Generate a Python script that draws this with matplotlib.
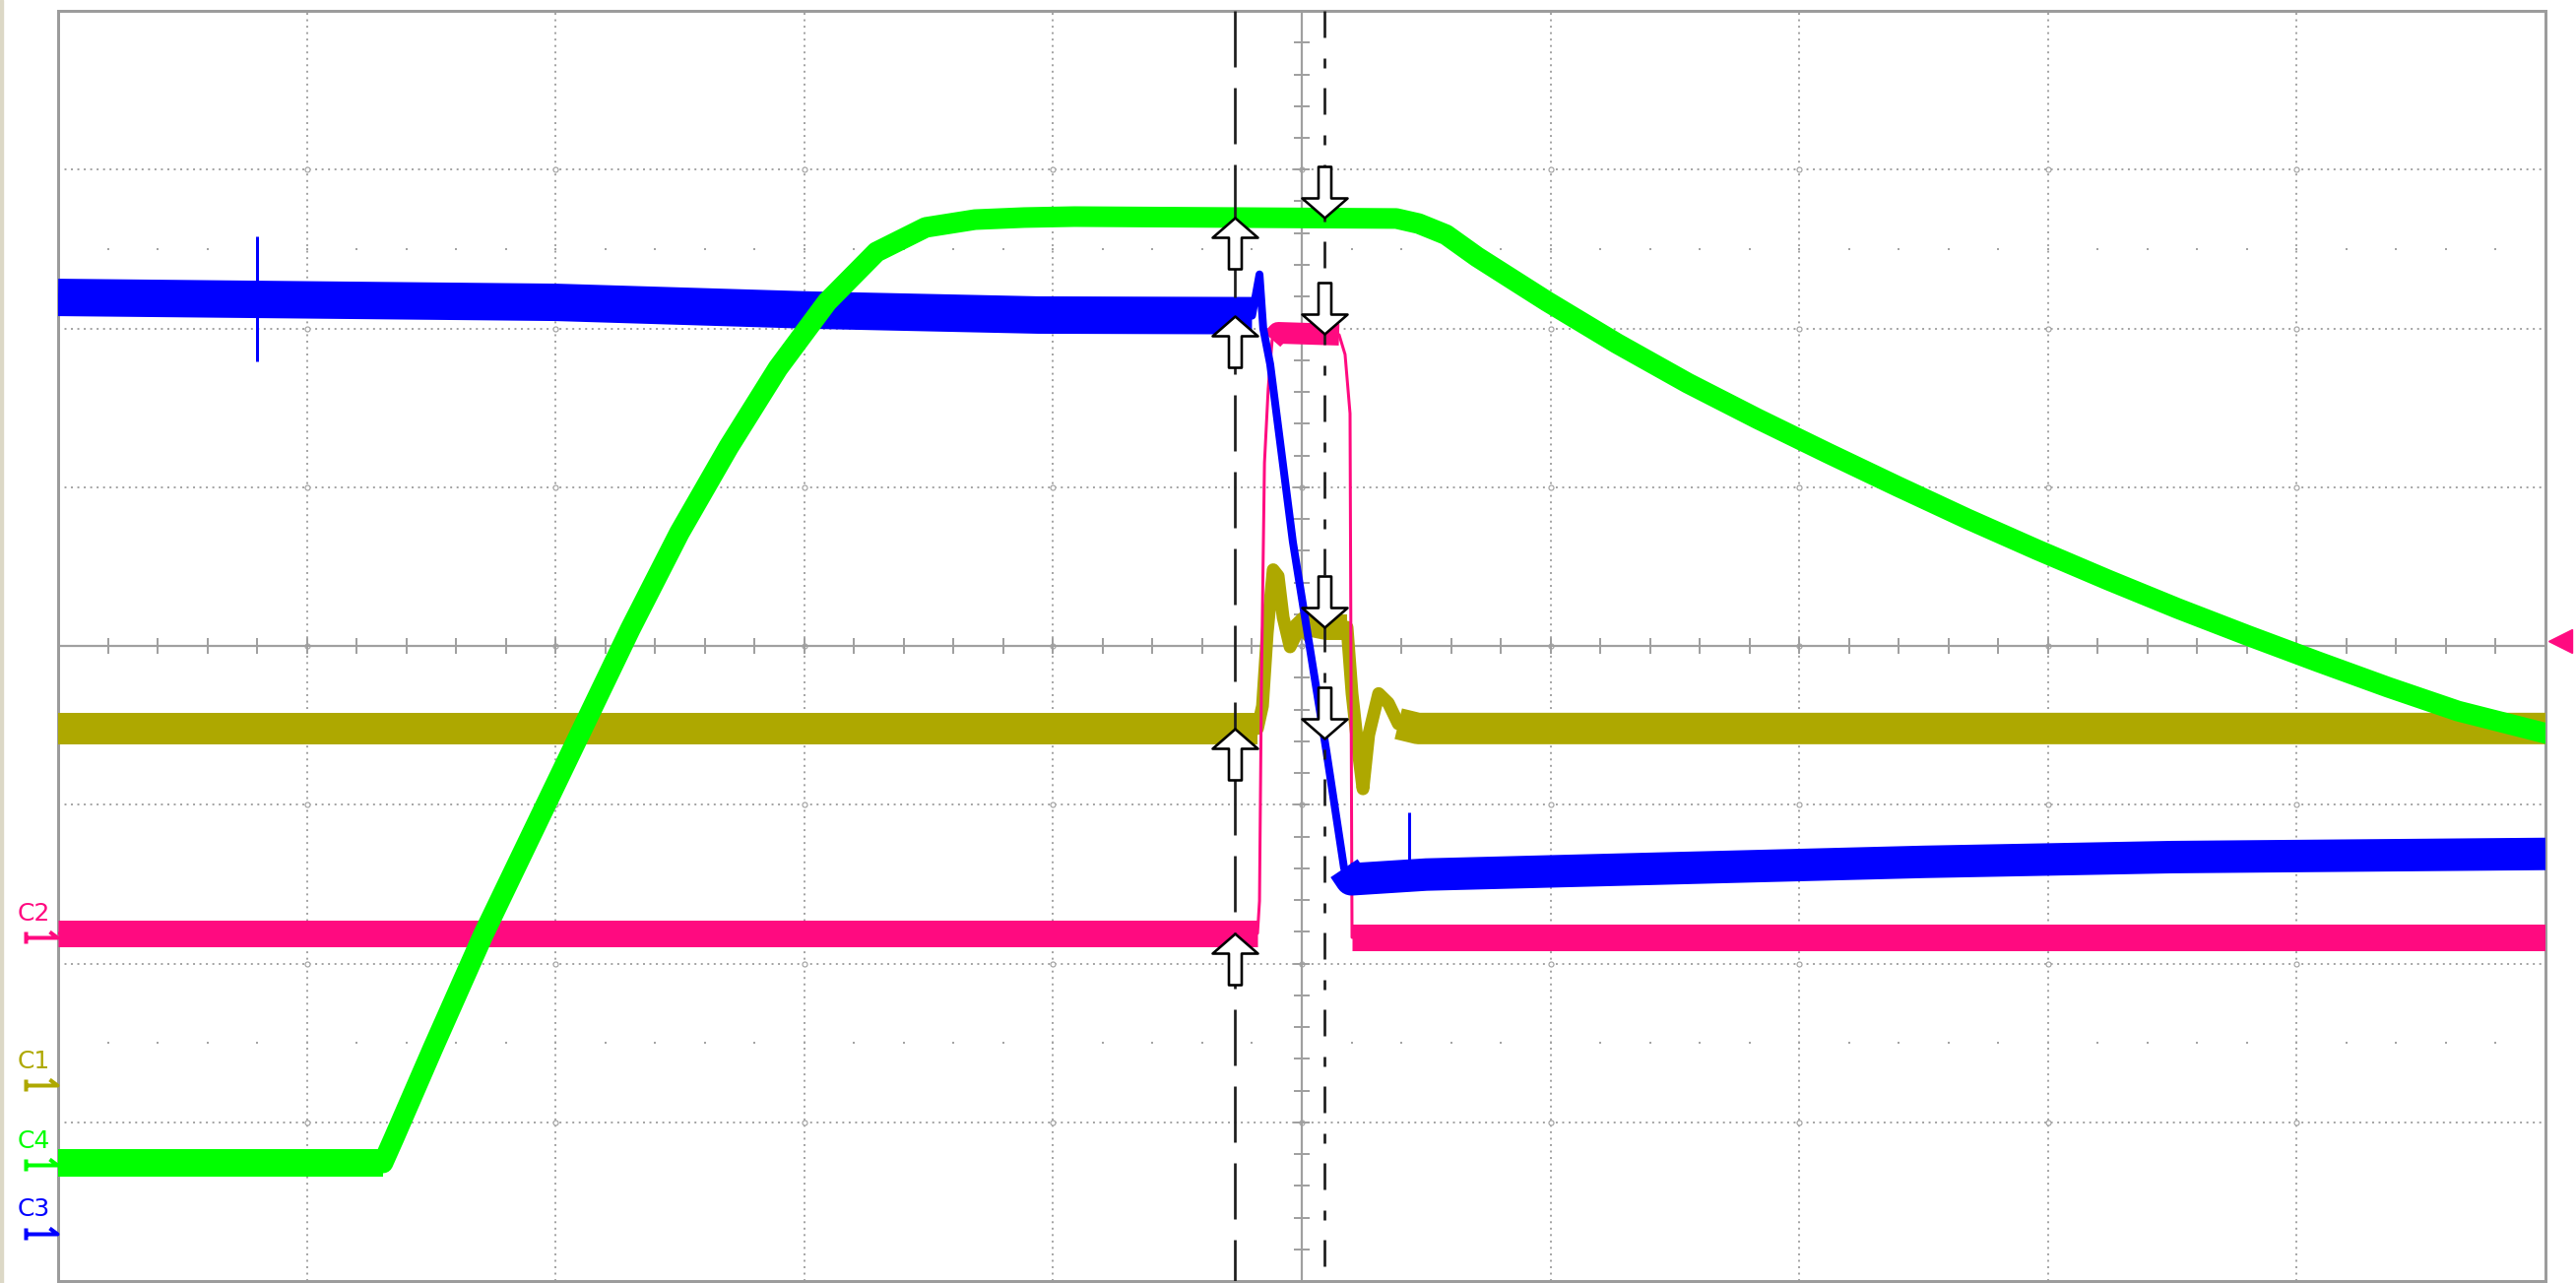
import numpy as np
import matplotlib
matplotlib.use("Agg")
import matplotlib.pyplot as plt
from matplotlib.path import Path
from matplotlib.patches import Rectangle

# scope screen: 10 x 8 divisions, every value below is in divisions
# C4 (green)
c4_t = [0, 1.306, 1.350, 1.508, 1.710, 2.106, 2.300, 2.498, 2.696, 2.894, 3.092,
        3.290, 3.488, 3.686, 3.884, 4.086, 5.380, 5.470, 5.580, 5.705, 5.986,
        6.267, 6.552, 6.833, 7.114, 7.395, 7.676, 7.957, 8.242, 8.523, 8.804,
        9.086, 9.367, 9.648, 10.0]
c4_v = [-3.256, -3.256, -3.101, -2.530, -1.817, -0.527, 0.105, 0.713, 1.253, 1.749, 2.167,
        2.481, 2.636, 2.685, 2.698, 2.704, 2.692, 2.660, 2.590, 2.450, 2.170,
        1.905, 1.655, 1.430, 1.215, 1.005, 0.800, 0.605, 0.415, 0.235, 0.065,
        -0.100, -0.260, -0.410, -0.550]

# C3 (blue)
c3_t = [0, 2.0, 3.03, 3.94, 4.80, 4.83, 4.845, 4.873, 4.964, 5.099, 5.17, 5.20,
        5.5, 6.5, 7.5, 8.5, 10.0]
c3_v = [2.195, 2.164, 2.115, 2.084, 2.08, 2.34, 2.0, 1.774, 0.657, -0.664, -1.40, -1.47,
        -1.44, -1.40, -1.36, -1.33, -1.31]
c3_spike_t = [0.80, 5.43]
c3_spike_lo = [1.79, -1.47]
c3_spike_hi = [2.58, -1.05]

# C2 (pink)
c2_t = [0, 4.822, 4.830, 4.838, 4.850, 4.865, 4.881, 4.905, 5.150, 5.174, 5.194, 5.202, 10.0]
c2_v = [-1.81, -1.81, -1.606, -0.211, 1.153, 1.619, 1.929, 1.972, 1.960, 1.836, 1.464, -1.836, -1.836]

# C1 (olive)
c1_t = [0, 4.822, 4.842, 4.861, 4.885, 4.905, 4.925, 4.953, 4.980, 5.020, 5.099, 5.182,
        5.202, 5.230, 5.246, 5.269, 5.309, 5.348, 5.388, 5.467, 10.0]
c1_v = [-0.52, -0.52, -0.378, 0.080, 0.480, 0.440, 0.180, -0.006, 0.081, 0.143, 0.118, 0.118,
        -0.300, -0.700, -0.900, -0.560, -0.300, -0.360, -0.490, -0.52, -0.52]

ch_names = ["C2", "C1", "C4", "C3"]
ch_ground = [-1.836, -2.766, -3.27, -3.70]
ch_colors = ["#ff0a80", "#aea800", "#00ff00", "#0000ff"]

cursor_a = 4.731
cursor_b = 5.091
trig_level = 0.03

GREEN, BLUE, PINK, OLIVE = "#00ff00", "#0000ff", "#ff0a80", "#aea800"
GRID = "#a4a4a4"
PX = 0.72  # points per pixel at dpi 100

plt.rcParams["lines.scale_dashes"] = False

fig = plt.figure(figsize=(26.16, 13.03), dpi=100)
fig.add_artist(Rectangle((0, 0), 3 / 2616, 1, transform=fig.transFigure,
                         color="#dcd8c6", zorder=0))
ax = fig.add_axes([59 / 2616, 2 / 1303, 2526 / 2616, 1290 / 1303])
ax.set_xlim(0, 10)
ax.set_ylim(-4, 4)
ax.set_xticks([])
ax.set_yticks([])
for s in ax.spines.values():
    s.set_color("#9c9c9c")
    s.set_linewidth(3 * PX)

# dotted graticule
for k in range(1, 10):
    if k != 5:
        ax.plot([k, k], [-4, 4], color=GRID, lw=2 * PX, dashes=(1.4, 3.3), zorder=1)
for j in range(-3, 4):
    if j != 0:
        ax.plot([0, 10], [j, j], color=GRID, lw=2 * PX, dashes=(1.4, 3.3), zorder=1)
gx, gy = np.meshgrid(np.arange(1, 10), np.arange(-3, 4))
ax.plot(gx.ravel(), gy.ravel(), "o", ms=5 * PX, mfc="white", mec=GRID, mew=1.2 * PX, zorder=1)
minor = np.arange(1, 50) * 0.2
for yy in (2.5, -2.5):
    ax.plot(minor, np.full_like(minor, yy), "s", ms=2 * PX, color=GRID, mew=0, zorder=1)

# centre axes with minor ticks
ax.axhline(0, color="#a0a0a0", lw=2.2 * PX, zorder=1)
ax.axvline(5, color="#a0a0a0", lw=2.2 * PX, zorder=1)
ax.plot(minor, np.zeros_like(minor), "|", ms=16 * PX, mew=2 * PX, color="#a0a0a0", zorder=1)
ymin = np.arange(-19, 20) * 0.2
ax.plot(np.full_like(ymin, 5), ymin, "_", ms=16 * PX, mew=2 * PX, color="#a0a0a0", zorder=1)


def band(t, v, i0, i1, color, w, z):
    ax.plot(t[i0:i1], v[i0:i1], color=color, lw=w * PX, solid_capstyle="butt", zorder=z)


# C1
ax.plot(c1_t, c1_v, color=OLIVE, lw=13 * PX, zorder=3)
band(c1_t, c1_v, 0, 2, OLIVE, 32, 3)
band(c1_t, c1_v, 8, 12, OLIVE, 26, 3)
band(c1_t, c1_v, 18, 21, OLIVE, 32, 3)

# C2
ax.plot(c2_t, c2_v, color=PINK, lw=3 * PX, zorder=4)
band(c2_t, c2_v, 0, 2, PINK, 27, 4)
band(c2_t, c2_v, 6, 9, PINK, 22, 4)
band(c2_t, c2_v, 11, 13, PINK, 27, 4)

# C3
ax.plot(c3_t, c3_v, color=BLUE, lw=8 * PX, zorder=5)
band(c3_t, c3_v, 0, 5, BLUE, 38, 5)
band(c3_t, c3_v, 10, 17, BLUE, 33, 5)
ax.vlines(c3_spike_t, c3_spike_lo, c3_spike_hi, color=BLUE, lw=3 * PX, zorder=5)

# C4
ax.plot(c4_t, c4_v, color=GREEN, lw=21 * PX, zorder=6)
band(c4_t, c4_v, 0, 2, GREEN, 28, 6)

# cursors
ax.plot([cursor_a, cursor_a], [4, -4], color="#1c1c1c", lw=2.7 * PX,
        dashes=(57 * PX, 21 * PX), zorder=7)
ax.plot([cursor_b, cursor_b], [4, -4], color="#1c1c1c", lw=2.7 * PX,
        dashes=(27 * PX, 21 * PX, 10 * PX, 20 * PX), zorder=7)

up = Path([(0, 0), (23, -20), (6.5, -20), (6.5, -52), (-6.5, -52), (-6.5, -20),
           (-23, -20), (0, 0)], closed=True)
down = Path([(0, 0), (23, 20), (6.5, 20), (6.5, 52), (-6.5, 52), (-6.5, 20),
             (-23, 20), (0, 0)], closed=True)
traces = [(c4_t, c4_v), (c3_t, c3_v), (c1_t, c1_v), (c2_t, c2_v)]
for t, v in traces:
    ax.plot(cursor_a, np.interp(cursor_a, t, v), marker=up, ms=2 * 52 * PX,
            mfc="white", mec="black", mew=2.6 * PX, zorder=8)
    ax.plot(cursor_b, np.interp(cursor_b, t, v), marker=down, ms=2 * 52 * PX,
            mfc="white", mec="black", mew=2.6 * PX, zorder=8)

# channel ground markers and names
gnd = Path([(-33, 6), (-33, -6), (-33, 0), (-1, 0), (-9, 6)],
           [Path.MOVETO, Path.LINETO, Path.MOVETO, Path.LINETO, Path.LINETO])
for name, g, c in zip(ch_names, ch_ground, ch_colors):
    ax.plot(0, g, marker=gnd, ms=2 * 33 * PX, mec=c, mew=4 * PX, fillstyle="none",
            clip_on=False, zorder=9)
    ax.text(-0.162, g + 0.15, name, color=c, fontsize=18, ha="left", va="center",
            clip_on=False)

# trigger level marker
ax.plot(10.06, trig_level, "<", ms=17, color=PINK, clip_on=False, zorder=9)

fig.savefig("out.png", dpi=100, facecolor="white")
